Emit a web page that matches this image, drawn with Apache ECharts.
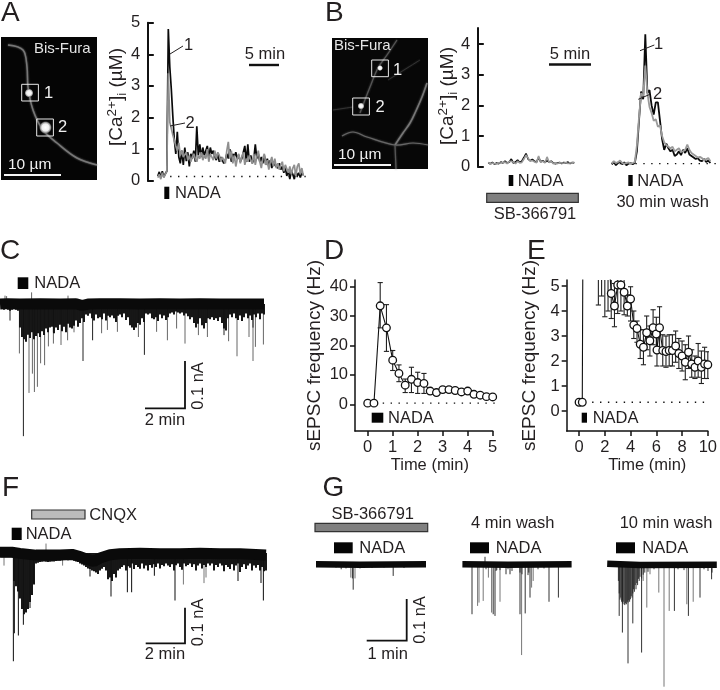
<!DOCTYPE html>
<html><head><meta charset="utf-8">
<style>html,body{margin:0;padding:0;background:#fff}#c{width:720px;height:690px}</style>
<script src="https://cdn.jsdelivr.net/npm/echarts@6/dist/echarts.min.js"></script>
</head><body><div id="c"></div>
<script>
// ---------- Panel A: [Ca2+]i (uM), one value every 0.25 min from 1.75 min
const caA1 = [.15,.28,.1,.3,.12,.22,.3,4.8,3.6,2.9,2.05,1.3,.85,1.55,.75,.55,.95,.5,1.05,.62,.9,.45,.85,.7,.95,.6,1.72,.8,1.15,.75,1.05,.8,.95,1.1,.7,1.05,.85,.95,.75,.65,.85,.6,.75,.7,.55,.65,.85,.7,1.0,.6,.85,.75,.9,.7,.8,.6,.7,.65,1.1,.6,1.15,.6,.8,.55,.7,1.15,.7,.85,.6,.75,.55,.8,.5,.7,.45,.65,.4,.6,.5,.55,.4,.55,.35,.45,.25,.4,.15,.35,.05,.3,.2,.05,.3,.15,.25,.1,.25,.18];
const caA2 = [.1,.2,.05,.25,.1,.2,.3,3.4,1.85,1.9,1.45,1.5,1.1,.95,1.2,.8,.95,.75,.7,.9,.65,.8,.6,.75,.85,.7,.6,.8,.7,.9,.65,.8,.7,1.0,.6,.85,.75,.65,.95,.7,.9,.8,.6,.75,.7,.55,.95,1.23,.7,.95,.55,.8,.45,.7,.85,.55,.75,.9,.5,.7,.6,.8,.65,.55,.85,.5,.75,.95,.6,.4,.7,.85,.5,.65,.35,.6,.75,.45,.7,.4,.55,.35,.5,.6,.3,.5,.55,.25,.45,.2,.4,.5,.15,.45,.55,.2,.4,.15];
// ---------- Panel B: one value every 0.25 min
const caB1Left = [.12,.1,.14,.08,.12,.1,.15,.12,.18,.12,.15,.25,.12,.15,.22,.14,.18,.3,.43,.25,.2,.24,.18,.15,.3,.16,.2,.14,.2,.15,.18,.12,.1,.12,.14,.1,.14,.12,.15,.1,.14,.12];
const caB2Left = [.14,.08,.12,.1,.09,.13,.12,.14,.15,.1,.17,.18,.14,.1,.18,.12,.14,.25,.38,.28,.18,.2,.16,.13,.35,.14,.18,.12,.32,.14,.17,.1,.12,.1,.13,.12,.11,.14,.1,.13,.12,.15];
const caB1Right = [.08,.15,.05,.12,.18,.08,.14,.05,.1,.12,.08,.12,.5,1.5,2.45,2.2,4.32,2.4,2.5,2.0,1.7,2.1,2.1,1.5,.9,.55,.75,.6,.5,.55,.35,.4,.5,.38,.55,.45,.6,.4,.35,.3,.25,.28,.2,.18,.25,.15,.2,.12];
const caB2Right = [.1,.18,.12,.15,.2,.12,.1,.12,.14,.1,.12,.15,.7,1.6,2.4,2.3,3.3,2.4,1.95,1.75,1.5,1.55,1.3,1.35,1.0,.8,.7,.65,.6,.65,.5,.55,.6,.48,.5,.55,.72,.55,.45,.4,.35,.3,.32,.28,.2,.25,.28,.18];
// ---------- Panel C: current (nA)
const cBandTime = [0,.4,1,2,3,3.8,4.1,4.4,5,6,7,8,9,10,11,12,13.2];
const cBand = [0,.001,0,.001,0,.001,-.003,0,.001,.001,0,.001,0,.001,0,0,0];
const cDepth = [-.01,-.012,-.01,-.012,-.014,-.012,-.01,-.012,-.014,-.05,-.07,-.075,-.08,-.065,-.072,-.06,-.075,-.068,-.062,-.07,-.058,-.066,-.052,-.06,-.05,-.048,-.062,-.05,-.055,-.044,-.058,-.048,-.06,-.042,-.05,-.052,-.046,-.035,-.048,-.04,-.03,-.038,-.022,-.025,-.02,-.03,-.035,-.022,-.03,-.028,-.032,-.02,-.035,-.025,-.028,-.024,-.03,-.038,-.025,-.022,-.028,-.02,-.034,-.028,-.045,-.05,-.055,-.05,-.04,-.044,-.03,-.038,-.02,-.022,-.02,-.03,-.032,-.028,-.036,-.022,-.03,-.024,-.034,-.028,-.02,-.018,-.022,-.016,-.018,-.02,-.018,-.024,-.02,-.026,-.032,-.028,-.04,-.05,-.042,-.03,-.045,-.052,-.04,-.03,-.032,-.028,-.034,-.03,-.036,-.028,-.04,-.052,-.056,-.03,-.022,-.028,-.02,-.03,-.034,-.024,-.036,-.028,-.02,-.03,-.024,-.034,-.022,-.028,-.02,-.032,-.02,-.022];
const cSpikesBlack = [[1.17,-.281],[4.15,-.121],[7.22,-.108],[.5,-.035],[12.65,-.05],[4.63,-.077],[11.2,-.066],[2.67,-.06]];
const cSpikesGray = [[.97,-.105],[1.45,-.189],[1.72,-.187],[1.87,-.176],[1.62,-.148],[2.03,-.126],[2.23,-.13],[2.42,-.09],[2.67,-.084],[3.05,-.087],[3.38,-.077],[3.7,-.06],[5.08,-.062],[5.37,-.055],[5.87,-.059],[6.92,-.07],[7.83,-.059],[8.37,-.077],[8.83,-.052],[9.25,-.084],[9.92,-.066],[10.37,-.07],[11.43,-.079],[11.85,-.111],[12.45,-.07],[12.65,-.121],[12.77,-.091],[13.17,-.086],[1.58,.025],[.25,.018],[.33,.017],[3.4,.018]];
// ---------- Panel D: sEPSC frequency (Hz)
const dTime = [0,.25,.5,.75,1,1.25,1.5,1.75,2,2.25,2.5,2.75,3,3.25,3.5,3.75,4,4.25,4.5,4.75,5];
const dMean = [.4,.4,33.5,26,15,10.5,6.5,8.5,7.4,7.1,4.5,4,5,5,4.7,4.2,4.5,3.4,3.1,2.6,2.5];
const dLow = [.4,.4,26,18,11.5,7.7,4,4,3.7,3.7,3.6,3.2,4.2,4.2,3.9,3.5,3.7,2.7,2.4,2,1.9];
const dHigh = [.4,.4,41.4,33.9,18.3,13.4,8.6,12.6,10.9,10.5,5.4,4.8,5.8,5.8,5.5,4.9,5.3,4.1,3.8,3.2,3.1];
// ---------- Panel E: sEPSC frequency (Hz), the bursts above 5 Hz run off the axis
const eTime = [0,.25,.5,.75,1,1.25,1.5,1.75,2,2.25,2.5,2.75,3,3.25,3.5,3.75,4,4.25,4.5,4.75,5,5.25,5.5,5.75,6,6.05,6.25,6.5,6.75,7,7.25,7.5,7.75,8,8.25,8.5,8.75,9,9.25,9.5,9.75,10];
const eMean = [.35,.35,33,26,15,10.5,7.6,7.3,7.2,6.6,4.7,4.2,5.04,5.04,4.75,4.2,4.48,3.44,3.3,2.67,2.55,3.13,2.81,3.33,3.08,2.44,3.33,2.42,2.38,2.42,2.42,2.6,2.3,2.2,1.95,2.35,1.88,1.75,2,1.75,1.88,1.85];
const eLow = [.35,.35,25,18,11,7.5,4.24,4.6,3.77,4,3.7,3.37,3.9,4,3.85,3.8,3.6,2.9,2.75,2.1,1.85,2.45,2.2,2.65,2.4,1.8,2.5,1.8,1.75,1.8,1.8,1.95,1.7,1.6,1.25,1.7,1.35,1.3,1.35,1.1,1.3,1.3];
const eHigh = [.35,.35,41,34,19,13.5,11,10,10.6,9.2,5.6,5.1,6.2,6.1,5.65,4.65,4.97,4,3.6,3.25,3.25,3.8,3.4,4.05,3.75,3.1,4.17,3.05,3,3.05,3.05,3.2,2.9,2.8,2.65,3,2.45,2.2,2.7,2.4,2.55,2.37];
// ---------- Panel F: current (nA)
const fBandTime = [0,.6,1,1.8,3,3.6,4,4.3,4.7,5,5.5,6,7,8,9,10,11,12,13.3];
const fBand = [.002,.002,-.001,-.006,-.006,-.004,-.01,-.017,-.024,-.014,-.005,-.002,-.001,-.002,-.002,-.001,-.002,-.002,-.006];
const fDepth = [-.012,-.012,-.012,-.012,-.012,-.012,-.08,-.095,-.11,-.13,-.16,-.175,-.17,-.16,-.14,-.12,-.09,-.03,-.028,-.026,-.025,-.024,-.025,-.026,-.025,-.024,-.024,-.023,-.022,-.022,-.021,-.02,-.02,-.021,-.02,-.019,-.022,-.024,-.026,-.03,-.033,-.036,-.04,-.044,-.046,-.05,-.052,-.056,-.06,-.05,-.045,-.04,-.05,-.075,-.07,-.08,-.06,-.07,-.05,-.045,-.04,-.035,-.05,-.038,-.042,-.03,-.046,-.034,-.04,-.045,-.03,-.044,-.036,-.05,-.034,-.042,-.032,-.04,-.03,-.044,-.034,-.038,-.03,-.036,-.04,-.032,-.05,-.035,-.03,-.04,-.048,-.03,-.038,-.034,-.03,-.04,-.032,-.05,-.036,-.03,-.044,-.034,-.04,-.03,-.036,-.03,-.05,-.034,-.04,-.03,-.036,-.052,-.034,-.04,-.046,-.032,-.05,-.036,-.03,-.054,-.04,-.032,-.046,-.036,-.03,-.05,-.036,-.042,-.034,-.05,-.04,-.052,-.05];
const fSpikesBlack = [[.67,-.31],[.92,-.236],[.72,-.229],[1.17,-.205],[1.5,-.157],[1.67,-.086],[5.55,-.124],[6.37,-.112],[6.58,-.112],[8.75,-.136],[13.17,-.136],[13.05,-.086],[11.9,-.08],[7.72,-.065],[4.5,-.067]];
const fSpikesGray = [[.2,-.036],[2.3,.027],[3.13,-.036],[9.17,-.09],[10.2,-.086],[10.3,-.07]];
// ---------- Panel G: current (nA)
const gBandTime1 = [.4,1.5,3.15];
const gBand1 = [0,-.001,0];
const gBandTime2 = [4.06,5.2,6.79];
const gBand2 = [0,-.001,0];
const gBandTime3 = [7.68,8.5,10.42];
const gBand3 = [.001,-.002,-.001];
const gSpikesBlack = [[1.03,-.012],[1.31,-.034],[1.33,-.061],[2.33,-.028],[4.3,-.12],[4.875,-.124],[4.83,-.12],[5.5,-.12],[5.63,-.118],[5.75,-.08],[6.225,-.09],[6.46,-.08],[4.625,.018],[5.25,-.024],[5.15,-.024],[7.98,-.124],[8.06,-.164],[8.2,-.238],[8.54,-.212],[9.71,-.124],[8.32,-.142],[9.36,-.112],[10.29,-.036],[10,-.08]];
const gSpikesGray = [[1.27,-.032],[1.375,-.034],[4.44,-.1],[4.475,-.092],[4.58,-.088],[4.71,-.032],[4.79,-.116],[5,-.09],[5.54,-.218],[5.79,-.056],[5.83,-.04],[8.67,-.104],[8.97,-.068],[9.1,-.294],[9.23,-.112],[9.67,-.096],[9.83,-.09],[8.75,-.024],[8.58,-.04]];
const gDense = [[7.96,-.04],[7.98,-.07],[8,-.085],[8.02,-.08],[8.04,-.09],[8.06,-.094],[8.08,-.09],[8.1,-.096],[8.12,-.098],[8.14,-.094],[8.16,-.096],[8.18,-.09],[8.2,-.092],[8.22,-.086],[8.24,-.09],[8.26,-.084],[8.28,-.076],[8.3,-.08],[8.32,-.07],[8.34,-.06],[8.36,-.066],[8.38,-.05],[8.4,-.06],[8.42,-.045],[8.44,-.05],[8.46,-.035],[8.48,-.04],[8.5,-.03],[8.54,-.034],[8.58,-.025],[8.62,-.02],[8.7,-.018],[9.6,-.014],[10.2,-.016],[10.3,-.02],[5.2,-.012],[5.5,-.02],[5.55,-.024],[5.7,-.026],[5.72,-.02],[4.9,-.016],[4.92,-.014],[5.3,-.016],[.9,-.008],[1.15,-.01],[1.5,-.01],[1.8,-.009],[2.1,-.008],[2.6,-.009],[4.65,-.012],[5,-.014],[5.95,-.012],[6.1,-.01],[8.85,-.012],[9.45,-.012],[10.1,-.012]];
// ---------- Axis ticks
const aTicks = [0,1,2,3,4,5];
const bTicks = [0,1,2,3,4];
const dXTicks = [0,1,2,3,4,5];
const dYTicks = [0,10,20,30,40];
const eXTicks = [0,2,4,6,8,10];
const eYTicks = [0,1,2,3,4,5];

// ---------- helpers
const FONT = '"Liberation Sans", Arial, sans-serif';
const INK = '#231f20';
const seq = (vals, t0, dt) => vals.map((v, i) => [t0 + i * dt, v]);
const zip = (a, b) => a.map((v, i) => [v, b[i]]);

function txt(x, y, s, o) {
  o = o || {};
  return {type:'text', x:x, y:y, rotation:o.rot||0, silent:true, z:20,
    style:{text:s, fontFamily:FONT, fontSize:o.size||16.5, fill:o.fill||INK,
      align:o.align||'left', verticalAlign:'middle', rich:o.rich}};
}
function rect(x, y, w, h, fill, stroke, z) {
  return {type:'rect', silent:true, z:z||15, shape:{x:x,y:y,width:w,height:h},
    style:{fill:fill, stroke:stroke||null, lineWidth:stroke?1.2:0}};
}
function seg(pts, color, w) {
  return {type:'polyline', silent:true, z:16, shape:{points:pts},
    style:{stroke:color||INK, lineWidth:w||1, fill:null}};
}
function glow(pts, color, w) {
  return {type:'polyline', silent:true, z:4, shape:{points:pts, smooth:.35},
    style:{stroke:color, lineWidth:w, fill:null, shadowBlur:2, shadowColor:color}};
}
function blob(cx, cy, rx, ry, rot) {
  return {type:'ellipse', silent:true, z:5, x:cx, y:cy, rotation:rot, shape:{cx:0,cy:0,rx:rx,ry:ry},
    style:{fill:new echarts.graphic.RadialGradient(.5,.5,.5,[
      {offset:0,color:'#ffffff'},{offset:.55,color:'#eeeeee'},{offset:.8,color:'#909090'},{offset:1,color:'rgba(70,70,70,0)'}],false)}};
}
const spikes = (w, c) => (p, api) => {
  const a = api.coord([api.value(0), 0]), b = api.coord([api.value(0), api.value(1)]);
  return {type:'line', shape:{x1:a[0],y1:a[1],x2:b[0],y2:b[1]}, style:{stroke:c,lineWidth:w}};
};
const errbar = (p, api) => {
  const x = api.value(0), lo = api.coord([x, api.value(1)]), hi = api.coord([x, api.value(2)]);
  const s = {stroke:'#222', lineWidth:1.1}, cap = 2.6;
  return {type:'group', children:[
    {type:'line', shape:{x1:lo[0],y1:lo[1],x2:hi[0],y2:hi[1]}, style:s},
    {type:'line', shape:{x1:lo[0]-cap,y1:lo[1],x2:lo[0]+cap,y2:lo[1]}, style:s},
    {type:'line', shape:{x1:hi[0]-cap,y1:hi[1],x2:hi[0]+cap,y2:hi[1]}, style:s}]};
};

const grids = [
  {left:147.3, top:22.7, width:170, height:158},     // 0 A
  {left:477.3, top:28, width:242, height:138.7},     // 1 B
  {left:0, top:290, width:270, height:150.4},        // 2 C
  {left:355, top:280, width:137.7, height:151},      // 3 D
  {left:566.7, top:280, width:144, height:151},      // 4 E
  {left:0, top:542.5, width:270, height:119},        // 5 F
  {left:300, top:554.2, width:420, height:135}       // 6 G
];
const hiddenX = (i, min, max) => ({gridIndex:i, type:'value', min:min, max:max, show:false});
const hiddenY = (i, min, max) => ({gridIndex:i, type:'value', min:min, max:max, show:false});
const visY = (i, min, max, ticks, inside, w) => ({gridIndex:i, type:'value', min:min, max:max,
  splitLine:{show:false},
  axisLine:{show:true, onZero:false, lineStyle:{color:'#111', width:w}},
  axisTick:{show:true, inside:inside, length:inside?6.5:5, customValues:ticks, lineStyle:{color:'#111', width:w}},
  axisLabel:{show:true, margin:7, customValues:ticks, color:INK, fontFamily:FONT, fontSize:16.5}});
const visX = (i, min, max, ticks) => ({gridIndex:i, type:'value', min:min, max:max,
  splitLine:{show:false},
  axisLine:{show:true, onZero:false, lineStyle:{color:'#111', width:1.5}},
  axisTick:{show:true, length:5, customValues:ticks, lineStyle:{color:'#111', width:1.5}},
  axisLabel:{show:true, margin:8, customValues:ticks, color:INK, fontFamily:FONT, fontSize:16.5}});

const xAxes = [
  hiddenX(0, 0, 28.33),
  hiddenX(1, 0, 28.81),
  hiddenX(2, 0, 13.5),
  Object.assign(visX(3, -.508, 5, dXTicks), {name:'Time (min)', nameLocation:'middle', nameGap:23,
    nameTextStyle:{color:INK, fontFamily:FONT, fontSize:16.5, padding:[0,0,0,12]}}),
  Object.assign(visX(4, -.96, 10, eXTicks), {name:'Time (min)', nameLocation:'middle', nameGap:23,
    nameTextStyle:{color:INK, fontFamily:FONT, fontSize:16.5, padding:[0,0,0,20]}}),
  hiddenX(5, 0, 13.5),
  hiddenX(6, 0, 10.5)
];
const yAxes = [
  visY(0, 0, 5, aTicks, true, 2),
  visY(1, 0, 4.525, bTicks, true, 2),
  hiddenY(2, -.29, .03),
  Object.assign(visY(3, -9.08, 42.28, dYTicks, false, 1.5), {name:'sEPSC frequency (Hz)', nameLocation:'middle', nameGap:28,
    nameTextStyle:{color:INK, fontFamily:FONT, fontSize:19, padding:[0,0,3,0]}}),
  Object.assign(visY(4, -.8, 5.24, eYTicks, false, 1.5), {name:'sEPSC frequency (Hz)', nameLocation:'middle', nameGap:24,
    nameTextStyle:{color:INK, fontFamily:FONT, fontSize:19, padding:[0,0,3,0]}}),
  hiddenY(5, -.31, .03),
  hiddenY(6, -.3, .0242)
];

const trace = (i, data, color, w, z) => ({type:'line', xAxisIndex:i, yAxisIndex:i, data:data, symbol:'none', z:z||3,
  lineStyle:{color:color, width:w}});
const dotted = (i, data) => ({type:'line', xAxisIndex:i, yAxisIndex:i, data:data, symbol:'none', clip:false, z:2,
  lineStyle:{color:'#111', width:1.4, type:[1.4,6.5]}});
const spk = (i, data, w, c, z) => ({type:'custom', xAxisIndex:i, yAxisIndex:i, data:data, renderItem:spikes(w,c),
  encode:{x:0,y:1}, clip:true, z:z||3});
const band = (i, t, v, w) => trace(i, zip(t, v), '#0a0a0a', w, 5);
const points = (i, t, m) => ({type:'line', xAxisIndex:i, yAxisIndex:i, data:zip(t, m), symbol:'circle', symbolSize:7.6,
  showAllSymbol:true, z:5, lineStyle:{color:'#111', width:1.1},
  itemStyle:{color:'#fff', borderColor:'#111', borderWidth:1.3}});
const errs = (i, t, lo, hi) => ({type:'custom', xAxisIndex:i, yAxisIndex:i, clip:true, z:3, renderItem:errbar,
  data:t.map((v, k) => [v, lo[k], hi[k]]), encode:{x:0,y:[1,2]}});

const series = [
  dotted(0, [[3.8,.135],[26.4,.135]]),
  trace(0, seq(caA1, 1.75, .25), '#0a0a0a', 1.7, 3),
  trace(0, seq(caA2, 1.75, .25), '#8f8f8f', 1.7, 4),
  dotted(1, [[16,.1],[28.6,.1]]),
  trace(1, seq(caB1Left, 1.3, .25), '#0a0a0a', 1.6, 3),
  trace(1, seq(caB2Left, 1.3, .25), '#999', 1.6, 4),
  trace(1, seq(caB1Right, 16, .25), '#0a0a0a', 1.8, 3),
  trace(1, seq(caB2Right, 16, .25), '#9a9a9a', 1.8, 4),
  spk(2, seq(cDepth, .1, .1), 1.95, '#111', 4),
  spk(2, cSpikesGray, 1, '#666', 3),
  spk(2, cSpikesBlack, 1, '#222', 3),
  band(2, cBandTime, cBand, 11),
  dotted(3, [[.6,.4],[5.3,.4]]),
  errs(3, dTime, dLow, dHigh),
  points(3, dTime, dMean),
  dotted(4, [[.4,.35],[10,.35]]),
  errs(4, eTime, eLow, eHigh),
  points(4, eTime, eMean),
  spk(5, seq(fDepth, .1, .1), 1.95, '#111', 4),
  spk(5, fSpikesGray, 1, '#777', 3),
  spk(5, fSpikesBlack, 1.1, '#222', 3),
  band(5, fBandTime, fBand, 11),
  spk(6, gDense, .9, '#222', 4),
  spk(6, gSpikesGray, 1, '#777', 3),
  spk(6, gSpikesBlack, 1, '#333', 3),
  band(6, gBandTime1, gBand1, 6.5),
  band(6, gBandTime2, gBand2, 6.5),
  band(6, gBandTime3, gBand3, 6.5)
];

const caRich = {sup:{fontFamily:FONT, fontSize:13.5, verticalAlign:'top', lineHeight:24, fill:INK, padding:[0,0,6,0]},
  sub:{fontFamily:FONT, fontSize:13.5, verticalAlign:'bottom', lineHeight:24, fill:INK, padding:[6,0,0,0]}};
const caLabel = '[Ca{sup|2+}]{sub|i} (µM)';

const graphic = [
  // panel letters
  txt(1,13,'A',{size:28}), txt(325,13,'B',{size:28}), txt(0,251,'C',{size:28}), txt(324,251.5,'D',{size:28}),
  txt(527,251,'E',{size:28}), txt(2,488,'F',{size:28}), txt(322.5,488,'G',{size:28}),

  // micrograph A
  rect(1,37,96,143,'#050505',null,3),
  glow([[8,45],[23,50],[27,67],[28,87],[33,110],[43,130],[57,143],[77,158],[97,165]],'#777',1.5),
  blob(29,93,4.5,8,.3), blob(45.5,127.5,6.5,8,0),
  {type:'rect',silent:true,z:7,shape:{x:21.7,y:84.3,width:16.7,height:16.7},style:{fill:null,stroke:'#e8e8e8',lineWidth:1}},
  {type:'rect',silent:true,z:7,shape:{x:36.7,y:119,width:16.7,height:17},style:{fill:null,stroke:'#e8e8e8',lineWidth:1}},
  txt(44,93,'1',{fill:'#f0f0f0'}), txt(58,127.5,'2',{fill:'#f0f0f0'}),
  txt(34,49,'Bis-Fura',{fill:'#e4e4e4',size:15}), txt(8,165,'10 µm',{fill:'#f0f0f0',size:15.5}),
  seg([[4,175],[61,175]],'#f4f4f4',2),

  // micrograph B
  rect(332,38,96,131,'#070707',null,3),
  glow([[360,113],[370,87],[378,68],[387,55],[397,40]],'#555',1.2),
  glow([[342,136],[353,132],[367,137],[395,145],[413,143],[428,145]],'#666',1.2),
  glow([[395,145],[403,133],[410,123],[415,113],[422,97],[427,83]],'#777',1.5),
  glow([[395,145],[396,169]],'#555',1.2),
  glow([[333,110],[353,107]],'#333',1),
  glow([[388,80],[420,60]],'#333',1),
  blob(380,68,3,7,.5), blob(361,106,3.5,7.5,.55),
  {type:'rect',silent:true,z:7,shape:{x:371.7,y:60,width:16.7,height:16.7},style:{fill:null,stroke:'#e8e8e8',lineWidth:1}},
  {type:'rect',silent:true,z:7,shape:{x:352.7,y:98,width:16.7,height:17},style:{fill:null,stroke:'#e8e8e8',lineWidth:1}},
  txt(393,70,'1',{fill:'#f0f0f0'}), txt(375.5,107.5,'2',{fill:'#f0f0f0'}),
  txt(334,46,'Bis-Fura',{fill:'#e4e4e4',size:15}), txt(338,155,'10 µm',{fill:'#f0f0f0',size:15.5}),
  seg([[334,165],[391,165]],'#f4f4f4',2),

  // panel A annotation
  txt(117,97,caLabel,{rot:Math.PI/2,align:'center',rich:caRich,size:19}),
  rect(164.3,186.7,5,12.3,'#050505'), txt(175,193,'NADA'),
  txt(184,45,'1'), seg([[170,54],[183,46]]), txt(185.5,123,'2'), seg([[170,126],[185,123]]),
  txt(265,54,'5 min',{align:'center'}), seg([[249,65],[279,65]],'#111',2.4),

  // panel B annotation
  txt(448,96,caLabel,{rot:Math.PI/2,align:'center',rich:caRich,size:19}),
  rect(508.7,175,4.6,11,'#050505'), txt(517.7,181,'NADA'),
  rect(628.3,175,4.4,11,'#050505'), txt(637.3,181,'NADA'),
  rect(486.7,193.3,91.6,9,'#808080','#333'),
  txt(535,214,'SB-366791',{align:'center'}), txt(662.7,202,'30 min wash',{align:'center'}),
  txt(570,54,'5 min',{align:'center'}), seg([[549,64.5],[591,64.5]],'#111',2.4),
  txt(654,44,'1'), seg([[640,50.7],[654.3,45]]), txt(653,94,'2'), seg([[638.3,99.3],[650,94.3]]),

  // panel C annotation
  rect(17.7,277.3,10.6,11.7,'#050505'), txt(34.3,283,'NADA'),
  seg([[145,408.3],[185,408.3],[185,361]],'#111',1.8),
  txt(165,420.7,'2 min',{align:'center'}), txt(198,386,'0.1 nA',{rot:Math.PI/2,align:'center'}),

  // panels D, E
  rect(371.7,412.7,11.6,10,'#050505'), txt(388,418,'NADA'),
  rect(581.7,412.7,5.3,10,'#050505'), txt(592.7,418,'NADA'),

  // panel F annotation
  rect(31.7,510,53.3,9,'#bcbcbc','#333'), txt(89.3,515,'CNQX'),
  rect(11.7,527.7,10,12.3,'#050505'), txt(25.7,534,'NADA'),
  seg([[145.7,643.3],[185,643.3],[185,607.7]],'#111',1.8),
  txt(165,654,'2 min',{align:'center'}), txt(198,622.3,'0.1 nA',{rot:Math.PI/2,align:'center'}),

  // panel G annotation
  txt(372.7,514,'SB-366791',{align:'center'}), rect(315,523.3,112.7,8.4,'#808080','#333'),
  rect(334,542.3,18.7,11,'#050505'), txt(359.3,548.3,'NADA'),
  rect(470,542.3,19,11,'#050505'), txt(495.7,548.3,'NADA'),
  rect(616,542.3,19,11,'#050505'), txt(642.3,548.3,'NADA'),
  txt(512.7,523.3,'4 min wash',{align:'center'}), txt(666,523.3,'10 min wash',{align:'center'}),
  seg([[366.7,640.7],[406.7,640.7],[406.7,599]],'#111',1.8),
  txt(387.7,654,'1 min',{align:'center'}), txt(420.7,620,'0.1 nA',{rot:Math.PI/2,align:'center'})
];

const chart = echarts.init(document.getElementById('c'), null, {renderer:'canvas', width:720, height:690});
chart.setOption({animation:false, backgroundColor:'#fff', grid:grids, xAxis:xAxes, yAxis:yAxes, series:series, graphic:graphic});
</script></body></html>
